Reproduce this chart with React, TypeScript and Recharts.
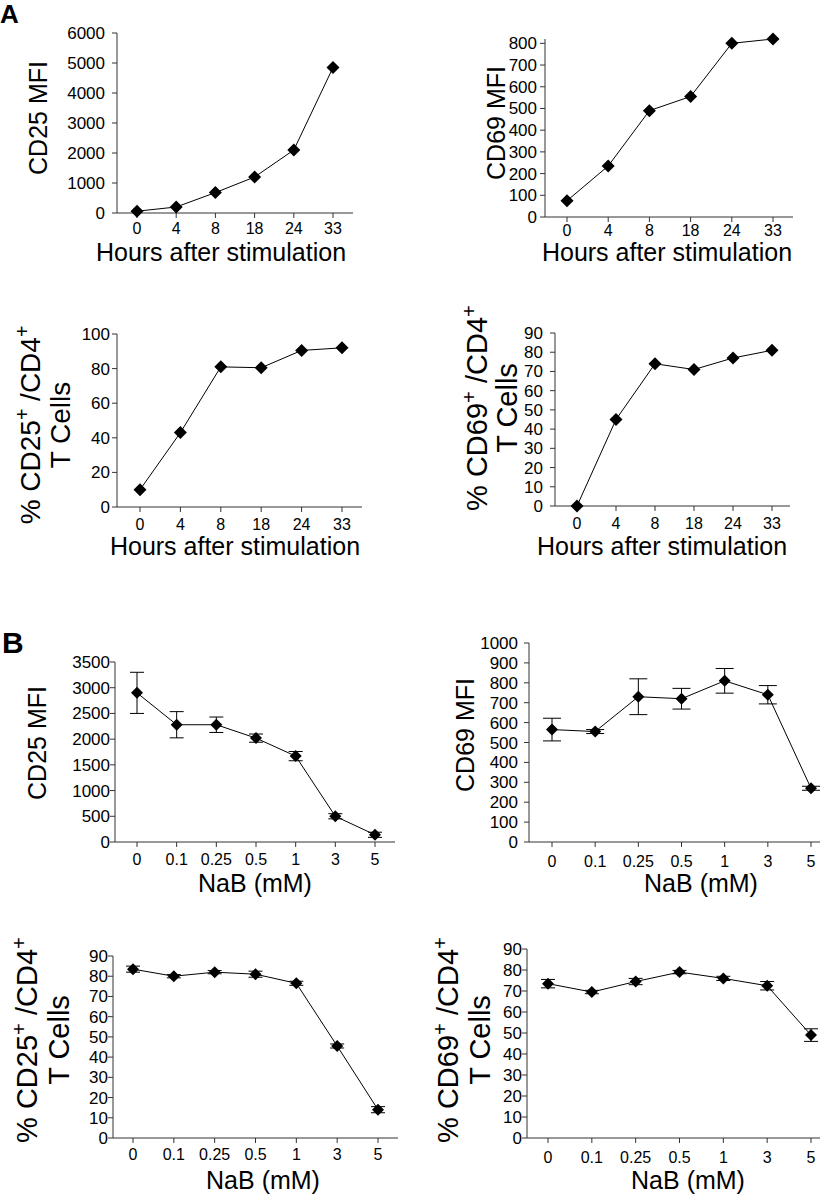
import React from 'react';
import { LineChart, Line, XAxis, YAxis, ErrorBar, Label } from 'recharts';

const FONT = '"Liberation Sans", Arial, Helvetica, sans-serif';

// ---------- data ----------
const hours = ['0', '4', '8', '18', '24', '33'];
const nabDoses = ['0', '0.1', '0.25', '0.5', '1', '3', '5'];

const cd25MfiTime = [60, 200, 680, 1200, 2100, 4850];
const cd69MfiTime = [75, 235, 490, 555, 800, 820];
const cd25PctTime = [10, 43, 81, 80.5, 90.5, 92];
const cd69PctTime = [0, 45, 74, 71, 77, 81];

const cd25MfiNab = [2900, 2280, 2280, 2020, 1670, 500, 140];
const cd25MfiNabErr = [400, 255, 150, 80, 90, 50, 50];
const cd69MfiNab = [565, 555, 730, 720, 810, 740, 270];
const cd69MfiNabErr = [57, 10, 90, 52, 62, 46, 10];
const cd25PctNab = [83.5, 80, 82, 81, 76.5, 45.5, 14];
const cd25PctNabErr = [1.5, 0.8, 0.8, 1.5, 1, 1, 1.5];
const cd69PctNab = [73.5, 69.5, 74.5, 79, 76, 72.5, 49];
const cd69PctNabErr = [2, 0.8, 1.5, 0.8, 1, 2, 3];

const ticks0to6000 = [0, 1000, 2000, 3000, 4000, 5000, 6000];
const ticks0to800 = [0, 100, 200, 300, 400, 500, 600, 700, 800];
const ticks0to100 = [0, 20, 40, 60, 80, 100];
const ticks0to90 = [0, 10, 20, 30, 40, 50, 60, 70, 80, 90];
const ticks0to3500 = [0, 500, 1000, 1500, 2000, 2500, 3000, 3500];
const ticks0to1000 = [0, 100, 200, 300, 400, 500, 600, 700, 800, 900, 1000];

const xTitleHours = 'Hours after stimulation';
const xTitleNab = 'NaB (mM)';

type Seg = { t: string; sup?: boolean };
const titleCd25Mfi: Seg[][] = [[{ t: 'CD25 MFI' }]];
const titleCd69Mfi: Seg[][] = [[{ t: 'CD69 MFI' }]];
const titleCd25Pct: Seg[][] = [
  [{ t: '% CD25' }, { t: '+', sup: true }, { t: ' /CD4' }, { t: '+', sup: true }],
  [{ t: 'T Cells' }],
];
const titleCd69Pct: Seg[][] = [
  [{ t: '% CD69' }, { t: '+', sup: true }, { t: ' /CD4' }, { t: '+', sup: true }],
  [{ t: 'T Cells' }],
];

// ---------- layout ----------
type Panel = {
  cell: { x: number; y: number; w: number; h: number };
  plot: { l: number; t: number; r: number; b: number };
  padL: number;
  padR: number;
  cats: string[];
  vals: number[];
  errs?: number[];
  yDomain: [number, number];
  yTicks: number[];
  yTickMargin: number;
  xTickMargin: number;
  yTitle: Seg[][];
  yTitleXs: number[];
  yTitleCy: number;
  yTitleFs: number;
  xTitle: string;
  xTitleX: number;
  xTitleY: number;
  dotR: number;
  cap: number;
};

const panels: Panel[] = [
  {
    cell: { x: 0, y: 20, w: 420, h: 250 }, plot: { l: 117, t: 33, r: 353, b: 213 },
    padL: 20, padR: 20, cats: hours, vals: cd25MfiTime, yDomain: [0, 6000], yTicks: ticks0to6000,
    yTickMargin: 7, xTickMargin: 5, yTitle: titleCd25Mfi, yTitleXs: [38], yTitleCy: 118, yTitleFs: 25,
    xTitle: xTitleHours, xTitleX: 221, xTitleY: 252, dotR: 6.5, cap: 7,
  },
  {
    cell: { x: 420, y: 20, w: 415, h: 250 }, plot: { l: 545, t: 39, r: 793, b: 217 },
    padL: 22, padR: 20, cats: hours, vals: cd69MfiTime, yDomain: [0, 820], yTicks: ticks0to800,
    yTickMargin: 3, xTickMargin: 3, yTitle: titleCd69Mfi, yTitleXs: [496], yTitleCy: 123, yTitleFs: 25,
    xTitle: xTitleHours, xTitleX: 667, xTitleY: 252, dotR: 6.5, cap: 7,
  },
  {
    cell: { x: 0, y: 290, w: 420, h: 280 }, plot: { l: 117, t: 334, r: 362, b: 507 },
    padL: 23, padR: 20, cats: hours, vals: cd25PctTime, yDomain: [0, 100], yTicks: ticks0to100,
    yTickMargin: 2, xTickMargin: 7, yTitle: titleCd25Pct, yTitleXs: [30, 60], yTitleCy: 425, yTitleFs: 28,
    xTitle: xTitleHours, xTitleX: 235, xTitleY: 546, dotR: 6.5, cap: 7,
  },
  {
    cell: { x: 420, y: 290, w: 415, h: 280 }, plot: { l: 555, t: 333, r: 790, b: 506 },
    padL: 22, padR: 18, cats: hours, vals: cd69PctTime, yDomain: [0, 90], yTicks: ticks0to90,
    yTickMargin: 7, xTickMargin: 7, yTitle: titleCd69Pct, yTitleXs: [477, 507], yTitleCy: 408, yTitleFs: 29,
    xTitle: xTitleHours, xTitleX: 662, xTitleY: 546, dotR: 6.5, cap: 7,
  },
  {
    cell: { x: 0, y: 640, w: 420, h: 260 }, plot: { l: 115, t: 662, r: 395, b: 842 },
    padL: 22, padR: 20, cats: nabDoses, vals: cd25MfiNab, errs: cd25MfiNabErr, yDomain: [0, 3500], yTicks: ticks0to3500,
    yTickMargin: 0, xTickMargin: 7, yTitle: titleCd25Mfi, yTitleXs: [37], yTitleCy: 743, yTitleFs: 25,
    xTitle: xTitleNab, xTitleX: 255, xTitleY: 883, dotR: 6, cap: 7,
  },
  {
    cell: { x: 420, y: 620, w: 415, h: 280 }, plot: { l: 529, t: 643, r: 820, b: 842 },
    padL: 23, padR: 9, cats: nabDoses, vals: cd69MfiNab, errs: cd69MfiNabErr, yDomain: [0, 1000], yTicks: ticks0to1000,
    yTickMargin: 6, xTickMargin: 9, yTitle: titleCd69Mfi, yTitleXs: [465], yTitleCy: 735, yTitleFs: 25,
    xTitle: xTitleNab, xTitleX: 701, xTitleY: 883, dotR: 6, cap: 9,
  },
  {
    cell: { x: 0, y: 920, w: 420, h: 275 }, plot: { l: 113, t: 956, r: 398, b: 1138 },
    padL: 20, padR: 20, cats: nabDoses, vals: cd25PctNab, errs: cd25PctNabErr, yDomain: [0, 90], yTicks: ticks0to90,
    yTickMargin: 0, xTickMargin: 6, yTitle: titleCd25Pct, yTitleXs: [27, 59], yTitleCy: 1040, yTitleFs: 29,
    xTitle: xTitleNab, xTitleX: 263, xTitleY: 1180, dotR: 6, cap: 7,
  },
  {
    cell: { x: 420, y: 920, w: 415, h: 275 }, plot: { l: 527, t: 949, r: 820, b: 1138 },
    padL: 21, padR: 9, cats: nabDoses, vals: cd69PctNab, errs: cd69PctNabErr, yDomain: [0, 90], yTicks: ticks0to90,
    yTickMargin: 0, xTickMargin: 9, yTitle: titleCd69Pct, yTitleXs: [448, 480], yTitleCy: 1040, yTitleFs: 29,
    xTitle: xTitleNab, xTitleX: 688, xTitleY: 1180, dotR: 6, cap: 7,
  },
];

const YW = 60;
const XH = 30;
const AXIS = '#333';

function makeDiamond(r: number) {
  return (props: any) => {
    const { cx, cy, index } = props;
    if (cx == null || cy == null) return <g key={`n${index}`} />;
    return (
      <path
        key={`d${index}`}
        d={`M${cx},${cy - r}L${cx + r},${cy}L${cx},${cy + r}L${cx - r},${cy}Z`}
        fill="#000"
        stroke="none"
      />
    );
  };
}

function RotTitle({ lines, xs, cy, fs, ox, oy }: { lines: Seg[][]; xs: number[]; cy: number; fs: number; ox: number; oy: number }) {
  return (
    <g>
      {lines.map((segs, i) => {
        const x = xs[i] - ox + 0.36 * fs;
        const y = cy - oy;
        return (
          <text
            key={i}
            x={x}
            y={y}
            transform={`rotate(-90 ${x} ${y})`}
            textAnchor="middle"
            fontSize={fs}
            fontFamily={FONT}
            fill="#000"
          >
            {segs.map((s, j) => {
              const prevSup = j > 0 && segs[j - 1].sup;
              if (s.sup) {
                return (
                  <tspan key={j} fontSize={fs * 0.7} dy={-fs * 0.38}>
                    {s.t}
                  </tspan>
                );
              }
              return (
                <tspan key={j} dy={prevSup ? fs * 0.38 : 0}>
                  {s.t}
                </tspan>
              );
            })}
          </text>
        );
      })}
    </g>
  );
}

function PanelChart({ p }: { p: Panel }) {
  const data = p.cats.map((c, i) => ({ x: c, v: p.vals[i], e: p.errs ? p.errs[i] : 0 }));
  const margin = {
    left: p.plot.l - p.cell.x - YW,
    top: p.plot.t - p.cell.y,
    right: p.cell.x + p.cell.w - p.plot.r,
    bottom: p.cell.y + p.cell.h - p.plot.b - XH,
  };
  const ox = p.cell.x;
  const oy = p.cell.y;
  return (
    <div style={{ position: 'absolute', left: p.cell.x, top: p.cell.y, width: p.cell.w, height: p.cell.h }}>
      <LineChart width={p.cell.w} height={p.cell.h} data={data} margin={margin}>
        <XAxis
          dataKey="x"
          type="category"
          height={XH}
          padding={{ left: p.padL, right: p.padR }}
          interval={0}
          stroke={AXIS}
          tickSize={5}
          tickMargin={p.xTickMargin}
          tick={{ fill: '#000', fontSize: 16, fontFamily: FONT }}
        >
          <Label
            content={() => (
              <text
                x={p.xTitleX - ox}
                y={p.xTitleY - oy + 0.36 * 25}
                textAnchor="middle"
                fontSize={25}
                fontFamily={FONT}
                fill="#000"
              >
                {p.xTitle}
              </text>
            )}
          />
        </XAxis>
        <YAxis
          type="number"
          width={YW}
          domain={p.yDomain}
          ticks={p.yTicks}
          interval={0}
          stroke={AXIS}
          tickSize={5}
          tickMargin={p.yTickMargin}
          tick={{ fill: '#000', fontSize: 17, fontFamily: FONT }}
        >
          <Label
            content={() => (
              <RotTitle lines={p.yTitle} xs={p.yTitleXs} cy={p.yTitleCy} fs={p.yTitleFs} ox={ox} oy={oy} />
            )}
          />
        </YAxis>
        <Line
          dataKey="v"
          stroke="#000"
          strokeWidth={1}
          dot={makeDiamond(p.dotR)}
          activeDot={false}
          isAnimationActive={false}
        >
          {p.errs ? (
            <ErrorBar dataKey="e" direction="y" width={p.cap} stroke="#000" strokeWidth={1} />
          ) : null}
        </Line>
      </LineChart>
    </div>
  );
}

export default function App() {
  return (
    <div style={{ position: 'absolute', left: 0, top: 0, width: 835, height: 1195, background: '#fff', overflow: 'hidden' }}>
      {panels.map((p, i) => (
        <PanelChart key={i} p={p} />
      ))}
      <svg
        width={835}
        height={1195}
        style={{ position: 'absolute', left: 0, top: 0, pointerEvents: 'none' }}
      >
        <text x={0} y={23} fontSize={26} fontWeight="bold" fontFamily={FONT} fill="#000">A</text>
        <text x={2} y={653} fontSize={30} fontWeight="bold" fontFamily={FONT} fill="#000">B</text>
      </svg>
    </div>
  );
}
